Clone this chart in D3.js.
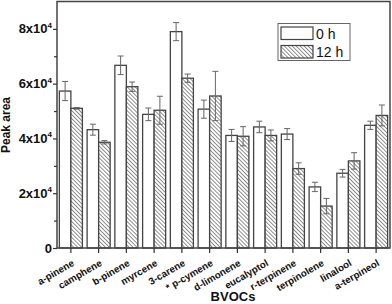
<!DOCTYPE html>
<html><head><meta charset="utf-8">
<script src="https://cdn.jsdelivr.net/npm/d3@7"></script>
<style>body{margin:0;background:#fff;} svg{display:block;}</style>
</head><body>
<svg id="c" width="392" height="304"></svg>
<script>
const categories = ["a-pinene","camphene","b-pinene","myrcene","3-carene","* p-cymene","d-limonene","eucalyptol","r-terpinene","terpinolene","linalool","a-terpineol"];
const series = ["0 h","12 h"];
const values0h  = [57300, 43200, 66700, 48800, 79000, 50700, 41100, 44200, 41600, 22300, 27300, 44800];
const errors0h  = [3500, 2000, 3400, 2300, 3300, 3300, 2200, 2100, 2000, 1700, 1400, 1500];
const values12h = [51000, 38600, 58900, 50300, 62000, 55500, 40800, 41100, 29000, 15300, 31800, 48400];
const errors12h = [300, 600, 1700, 5100, 1500, 9000, 3500, 2000, 2100, 2800, 3000, 3800];
const yTicks = [0, 20000, 40000, 60000, 80000];
const yMinorTicks = [10000, 30000, 50000, 70000];

const svg = d3.select("#c");
const L = 57, R = 390, T = 1.5, B = 248;
const x = d3.scaleBand().domain(categories).range([L, R]).paddingInner(0.17).paddingOuter(0.085);
const xs = d3.scaleBand().domain(series).range([0, x.bandwidth()]);
const y = d3.scaleLinear().domain([0, 90000]).range([B, T]);

const defs = svg.append("defs");
const pat = defs.append("pattern").attr("id","hatch").attr("patternUnits","userSpaceOnUse")
  .attr("width",2.8).attr("height",2.8).attr("patternTransform","rotate(-45)");
pat.append("rect").attr("width",2.8).attr("height",2.8).attr("fill","#fff");
pat.append("line").attr("x1",0).attr("y1",0).attr("x2",0).attr("y2",2.8).attr("stroke","#555").attr("stroke-width",1.3);

const data = [];
categories.forEach((c,i)=>{
  data.push({c, s:series[0], v:values0h[i], e:errors0h[i]});
  data.push({c, s:series[1], v:values12h[i], e:errors12h[i]});
});

const g = svg.append("g");
g.selectAll("rect.bar").data(data).join("rect").attr("class","bar")
  .attr("x", d=>x(d.c)+xs(d.s)).attr("width", xs.bandwidth())
  .attr("y", d=>y(d.v)).attr("height", d=>B - y(d.v))
  .attr("fill", d=>d.s===series[0] ? "#fff" : "url(#hatch)")
  .attr("stroke","#444").attr("stroke-width",1.3);

const eb = g.selectAll("g.err").data(data).join("g").attr("class","err")
  .attr("stroke","#666").attr("stroke-width",1);
eb.append("line").attr("x1",d=>x(d.c)+xs(d.s)+xs.bandwidth()/2).attr("x2",d=>x(d.c)+xs(d.s)+xs.bandwidth()/2)
  .attr("y1",d=>y(d.v+d.e)).attr("y2",d=>y(d.v-d.e));
[1,-1].forEach(sg=>{
  eb.append("line").attr("x1",d=>x(d.c)+xs(d.s)+xs.bandwidth()/2-3).attr("x2",d=>x(d.c)+xs(d.s)+xs.bandwidth()/2+3)
    .attr("y1",d=>y(d.v+sg*d.e)).attr("y2",d=>y(d.v+sg*d.e));
});

// frame
svg.append("rect").attr("x",L).attr("y",T).attr("width",R-L).attr("height",B-T)
  .attr("fill","none").attr("stroke","#444").attr("stroke-width",1.5);

// y axis
const ya = svg.append("g").attr("transform",`translate(${L},0)`)
  .call(d3.axisLeft(y).tickValues(yTicks).tickSize(4).tickFormat(""));
ya.select(".domain").remove();
ya.selectAll("line").attr("stroke","#333").attr("stroke-width",1.2);
svg.append("g").attr("transform",`translate(${L},0)`)
  .call(d3.axisLeft(y).tickValues(yMinorTicks).tickSize(3).tickFormat(""))
  .call(s=>{s.select(".domain").remove(); s.selectAll("line").attr("stroke","#333").attr("stroke-width",1.2);});

const yl = svg.append("g").selectAll("text").data(yTicks).join("text")
  .attr("x", L-5).attr("y", d=>y(d)+4.5).attr("text-anchor","end")
  .attr("font-family","Liberation Sans, Arial, sans-serif").attr("font-weight","bold").attr("font-size",13).attr("fill","#111");
yl.each(function(d){
  const t = d3.select(this);
  if (d===0){ t.text("0"); return; }
  t.append("tspan").text((d/10000)+"x10");
  t.append("tspan").attr("font-size",8).attr("dy",-5.5).text("4");
});

// x axis ticks
const xa = svg.append("g").attr("transform",`translate(0,${B})`)
  .call(d3.axisBottom(x).tickSize(5).tickFormat(""));
xa.select(".domain").remove();
xa.selectAll("line").attr("stroke","#333").attr("stroke-width",1.2);
svg.append("g").selectAll("text").data(categories).join("text")
  .attr("transform", d=>`translate(${x(d)+x.bandwidth()/2+4},${B+17}) rotate(-30)`)
  .attr("text-anchor","end")
  .attr("font-family","Liberation Sans, Arial, sans-serif").attr("font-weight","bold").attr("font-size",9.8).attr("fill","#111")
  .text(d=>d);

// axis titles
svg.append("text").attr("transform",`translate(10,125) rotate(-90)`).attr("text-anchor","middle")
  .attr("font-family","Liberation Sans, Arial, sans-serif").attr("font-weight","bold").attr("font-size",12).attr("fill","#111")
  .text("Peak area");
svg.append("text").attr("x",233).attr("y",301).attr("text-anchor","middle")
  .attr("font-family","Liberation Sans, Arial, sans-serif").attr("font-weight","bold").attr("font-size",13).attr("fill","#111")
  .text("BVOCs");

// legend
const lg = svg.append("g");
lg.append("rect").attr("x",278).attr("y",23.5).attr("width",72).attr("height",37)
  .attr("fill","#fff").attr("stroke","#666").attr("stroke-width",1);
series.forEach((s,i)=>{
  lg.append("rect").attr("x",281).attr("y",27+i*18.5).attr("width",32).attr("height",12.5)
    .attr("fill", i===0 ? "#fff" : "url(#hatch)").attr("stroke","#444").attr("stroke-width",1.2);
  lg.append("text").attr("x",316).attr("y",38.5+i*18.5)
    .attr("font-family","Liberation Sans, Arial, sans-serif").attr("font-size",14).attr("fill","#111").text(s);
});
</script>
</body></html>
